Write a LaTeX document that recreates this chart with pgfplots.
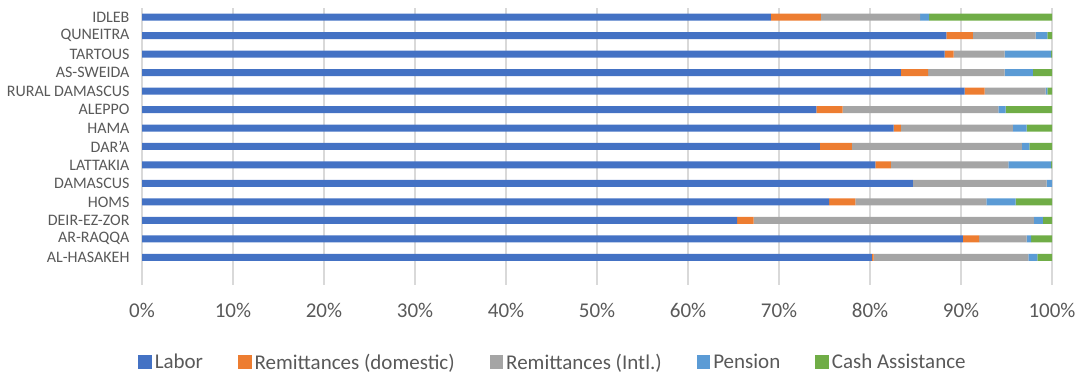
\documentclass[border=0pt]{standalone}
\usepackage{fontspec}
\setmainfont{Carlito}
\usepackage{pgfplots}
\pgfplotsset{compat=1.18}
\usepackage{pgfplotstable}
\definecolor{cLabor}{HTML}{4472C4}
\definecolor{cDom}{HTML}{ED7D31}
\definecolor{cIntl}{HTML}{A5A5A5}
\definecolor{cPension}{HTML}{5B9BD5}
\definecolor{cCash}{HTML}{70AD47}
\definecolor{gridgray}{HTML}{D9D9D9}
\definecolor{textgray}{HTML}{595959}

% idx: 0 = AL-HASAKEH ... 13 = IDLEB
\pgfplotstableread{
idx labor dom intl pension cash
0  80.2 0.2 17.0 1.0 1.6
1  90.2 1.8 5.2  0.5 2.3
2  65.4 1.8 30.8 1.0 1.0
3  75.5 2.9 14.4 3.2 4.0
4  84.7 0.0 14.7 0.6 0.0
5  80.6 1.7 12.9 4.7 0.1
6  74.5 3.5 18.7 0.8 2.5
7  82.6 0.8 12.3 1.5 2.8
8  74.1 2.9 17.1 0.8 5.1
9  90.4 2.2 6.7  0.2 0.5
10 83.4 3.0 8.4  3.1 2.1
11 88.2 1.0 5.6  5.1 0.1
12 88.4 2.9 6.9  1.3 0.5
13 69.1 5.5 10.9 1.0 13.5
}\datatable

\begin{document}
\begin{tikzpicture}
\useasboundingbox (0pt,0pt) rectangle (1079pt,374pt);
\begin{axis}[
  at={(142pt,89pt)}, anchor=south west,
  scale only axis, width=910pt, height=277pt,
  xbar stacked, bar width=7pt,
  xmin=0, xmax=100, ymin=-1.5, ymax=13.5,
  xtick={0,10,...,100}, ytick={0,1,...,13},
  yticklabels={AL-HASAKEH,AR-RAQQA,DEIR-EZ-ZOR,HOMS,DAMASCUS,LATTAKIA,DAR'A,HAMA,ALEPPO,RURAL DAMASCUS,AS-SWEIDA,TARTOUS,QUNEITRA,IDLEB},
  xticklabel={\pgfmathprintnumber{\tick}\%},
  /pgf/number format/assume math mode=true,
  axis line style={draw=none},
  major tick length=0pt,
  xmajorgrids, grid style={draw=gridgray, line width=1.2pt},
  tick label style={text=textgray},
  xticklabel style={font=\fontsize{21}{25}\selectfont, yshift=-15pt},
  yticklabel style={font=\fontsize{16}{19}\selectfont, xshift=-9pt},
  legend columns=5,
  legend style={at={(0.4505,-0.279)}, anchor=center, draw=none, fill=none,
    font=\fontsize{21}{25}\selectfont, text=textgray,
    nodes={inner sep=0pt},
    /tikz/every odd column/.append style={column sep=3pt},
    /tikz/every even column/.append style={column sep=35pt}},
  legend image code/.code={\fill[#1] (0pt,-6.5pt) rectangle (13.5pt,7pt);},
]
\addplot[fill=cLabor, draw=none] table[x=labor, y=idx] {\datatable};
\addplot[fill=cDom, draw=none] table[x=dom, y=idx] {\datatable};
\addplot[fill=cIntl, draw=none] table[x=intl, y=idx] {\datatable};
\addplot[fill=cPension, draw=none] table[x=pension, y=idx] {\datatable};
\addplot[fill=cCash, draw=none] table[x=cash, y=idx] {\datatable};
\legend{Labor, Remittances (domestic), Remittances (Intl.), Pension, Cash Assistance}
\end{axis}
\end{tikzpicture}
\end{document}
